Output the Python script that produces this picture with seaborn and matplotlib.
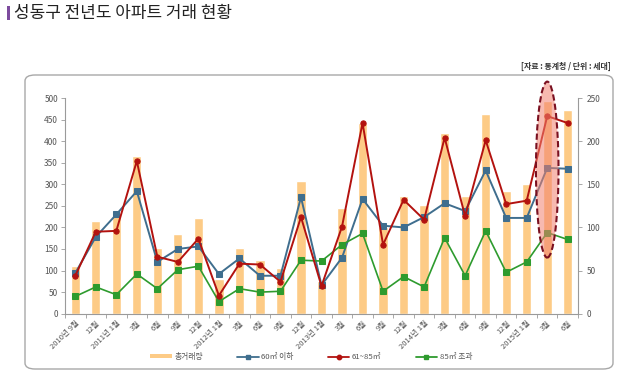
import numpy as np
import pandas as pd
import matplotlib
matplotlib.use("Agg")
import matplotlib.pyplot as plt
import seaborn as sns
from matplotlib.patches import Ellipse, FancyBboxPatch, Rectangle, Patch
from matplotlib.lines import Line2D

# ---------------- data ----------------
categories = ["2010년 9월", "12월", "2011년 1월", "3월", "6월", "9월", "12월",
              "2012년 1월", "3월", "6월", "9월", "12월", "2013년 1월", "3월",
              "6월", "9월", "12월", "2014년 1월", "3월", "6월", "9월", "12월",
              "2015년 1월", "3월", "6월"]
total = [110, 215, 230, 366, 153, 184, 221, 80, 152, 125, 107, 308, 75, 245,
         442, 200, 272, 251, 420, 273, 464, 285, 301, 492, 473]
under60 = [47, 89, 115, 142, 60, 75, 78, 46, 64, 44, 44, 135, 33, 65, 133,
           102, 100, 112, 128, 119, 166, 111, 111, 169, 168]
mid61_85 = [44, 95, 96, 177, 66, 60, 87, 21, 58, 57, 37, 112, 32, 101, 221,
            80, 132, 109, 204, 113, 201, 127, 131, 229, 221]
over85 = [20, 31, 22, 46, 29, 51, 55, 14, 29, 25, 26, 62, 61, 80, 93, 26, 43,
          31, 88, 44, 96, 48, 60, 94, 86]
left_ticks = [0, 50, 100, 150, 200, 250, 300, 350, 400, 450, 500]
right_ticks = [0, 50, 100, 150, 200, 250]
series_names = ["총거래량", "60㎡ 이하", "61~85㎡", "85㎡ 초과"]

# ---------------- style ----------------
sns.set_theme(style="white")
plt.rcParams["font.family"] = ["Noto Sans CJK KR", "DejaVu Sans"]

BAR = "#FDCB86"
BLUE = "#3F6E8E"
RED = "#B3120F"
GREEN = "#2E9B2E"
TICKC = "#555555"
AXC = "#9A9A9A"

idx = np.arange(len(categories))
df = pd.DataFrame({"idx": idx, "cat": categories, "total": total,
                   "u60": under60, "m": mid61_85, "o85": over85})

fig = plt.figure(figsize=(6.35, 3.75), dpi=100)
ax = fig.add_axes([65 / 635, 1 - 313.7 / 375, (578 - 65) / 635, (313.7 - 98) / 375])

sns.barplot(data=df, x="idx", y="total", color=BAR, saturation=1, width=0.45,
            ax=ax, zorder=1)
ax.set_ylim(0, 500)
ax.set_xlim(-0.5, len(categories) - 0.5)
ax.set_yticks(left_ticks)
ax.set_xlabel("")
ax.set_ylabel("")

ax2 = ax.twinx()
sns.lineplot(x=df["idx"], y=df["u60"], ax=ax2, color=BLUE, marker="s",
             markersize=3.8, markeredgecolor=BLUE, linewidth=1.4, zorder=3)
sns.lineplot(x=df["idx"], y=df["m"], ax=ax2, color=RED, marker="o",
             markersize=3.8, markeredgecolor=RED, linewidth=1.4, zorder=4)
sns.lineplot(x=df["idx"], y=df["o85"], ax=ax2, color=GREEN, marker="s",
             markersize=3.8, markeredgecolor=GREEN, linewidth=1.2, zorder=3)
ax2.set_ylim(0, 250)
ax2.set_yticks(right_ticks)
ax2.set_xlim(-0.5, len(categories) - 0.5)
ax2.set_ylabel("")
ax2.set_xlabel("")

# ticks / spines
for a in (ax, ax2):
    a.spines["top"].set_visible(False)
    for s in ("left", "right", "bottom"):
        a.spines[s].set_color(AXC)
        a.spines[s].set_linewidth(0.8)
ax.spines["right"].set_visible(False)
ax2.spines["left"].set_visible(False)
ax2.spines["bottom"].set_visible(False)

ax.tick_params(axis="y", which="both", left=True, length=3, width=0.6,
               color=AXC, labelsize=6, labelcolor=TICKC, pad=2)
ax2.tick_params(axis="y", which="both", right=True, length=3, width=0.6,
                color=AXC, labelsize=6, labelcolor=TICKC, pad=3)
ax.set_xticks(idx)
ax.set_xticklabels(categories, rotation=45, ha="right", rotation_mode="anchor",
                   fontsize=5.5, color=TICKC)
ax.tick_params(axis="x", which="major", length=0, pad=4)
ax.set_xticks(np.arange(-0.5, len(categories), 1.0), minor=True)
ax.tick_params(axis="x", which="minor", bottom=True, length=3, width=0.6,
               color=AXC)

# highlight ellipse
ell = Ellipse((23, 167), width=1.1, height=204, facecolor="#F2806F",
              alpha=0.55, edgecolor="none", zorder=5, clip_on=False)
ax2.add_patch(ell)
ell2 = Ellipse((23, 167), width=1.1, height=204, facecolor="none",
               edgecolor="#7A1020", linestyle=(0, (3, 1.5)), linewidth=1.5,
               zorder=6, clip_on=False)
ax2.add_patch(ell2)

# legend
handles = [Patch(facecolor=BAR, edgecolor="none"),
           Line2D([0], [0], color=BLUE, marker="s", markersize=3.2, lw=1.3),
           Line2D([0], [0], color=RED, marker="o", markersize=3.2, lw=1.3),
           Line2D([0], [0], color=GREEN, marker="s", markersize=3.2, lw=1.3)]
fig.legend(handles, series_names, loc="center", bbox_to_anchor=(0.49, 1 - 357 / 375),
           ncol=4, frameon=False, fontsize=5.6, handlelength=2.8, handleheight=0.5,
           columnspacing=4.4, handletextpad=0.3, labelcolor=TICKC)

# border box
box = FancyBboxPatch((25 / 635, 1 - 369 / 375), (613 - 25) / 635, (369 - 75) / 375,
                     boxstyle="round,pad=0,rounding_size=0.016",
                     transform=fig.transFigure, facecolor="none",
                     edgecolor="#A8A8A8", linewidth=1.0, zorder=0)
fig.patches.append(box)

# title
fig.patches.append(Rectangle((7 / 635, 1 - 20 / 375), 3 / 635, 14 / 375,
                             transform=fig.transFigure, facecolor="#7D4B9E",
                             edgecolor="none"))
fig.text(14 / 635, 1 - 13 / 375, "성동구 전년도 아파트 거래 현황", fontsize=12.2,
         color="#222222", va="center", ha="left")
fig.text(611 / 635, 1 - 66 / 375, "[자료 : 통계청 / 단위 : 세대]", fontsize=5.7,
         color="#333333", va="center", ha="right", fontweight="bold")

fig.savefig("out.png", dpi=100)
